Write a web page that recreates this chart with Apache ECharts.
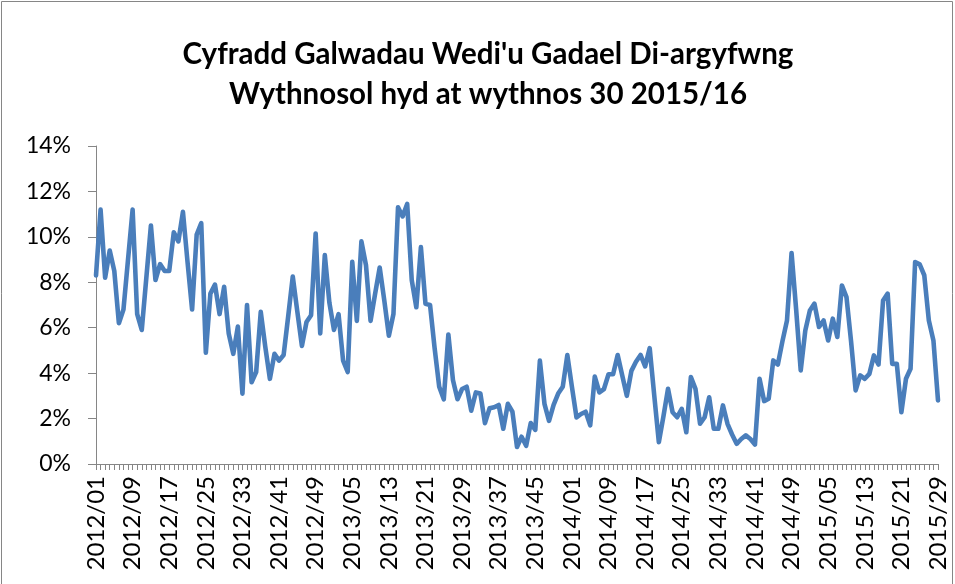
<!DOCTYPE html>
<html>
<head>
<meta charset="utf-8">
<script src="https://cdn.jsdelivr.net/npm/echarts@6/dist/echarts.min.js"></script>
<style>
html,body{margin:0;padding:0;background:#fff;}
#c{width:955px;height:584px;}
</style>
</head>
<body>
<div id="c"></div>
<script>
// Category structure: year and number of weeks shown for each year
var years = [2012, 2013, 2014, 2015];
var weeksPerYear = [52, 52, 52, 29];

// Weekly non-emergency abandoned call rate (%)
var v2012 = [8.3, 11.2, 8.2, 9.4, 8.5, 6.2, 6.8, 9.0, 11.2, 6.6, 5.9, 8.2, 10.5, 8.1, 8.8, 8.5, 8.5, 10.2, 9.8, 11.1,
  8.9, 6.8, 10.1, 10.6, 4.9, 7.5, 7.9, 6.6, 7.8, 5.75, 4.85, 6.05, 3.1, 7.0, 3.6, 4.05, 6.7, 5.15, 3.75, 4.85,
  4.55, 4.8, 6.5, 8.25, 6.7, 5.2, 6.25, 6.55, 10.15, 5.75, 9.2, 7.1];
var v2013 = [5.9, 6.6, 4.55, 4.05, 8.9, 6.3, 9.8, 8.75, 6.3, 7.5, 8.65, 7.2, 5.65, 6.6, 11.3, 10.9, 11.45, 8.1, 6.9, 9.55,
  7.05, 7.0, 5.1, 3.4, 2.85, 5.7, 3.7, 2.85, 3.3, 3.4, 2.35, 3.15, 3.1, 1.8, 2.45, 2.5, 2.6, 1.55, 2.65, 2.3,
  0.75, 1.2, 0.8, 1.8, 1.5, 4.55, 2.65, 1.9, 2.6, 3.1, 3.4, 4.8];
var v2014 = [3.4, 2.05, 2.2, 2.3, 1.7, 3.85, 3.15, 3.3, 3.95, 3.95, 4.8, 3.9, 3.0, 4.1, 4.5, 4.8, 4.3, 5.1, 3.0, 0.96,
  2.1, 3.31, 2.28, 2.06, 2.43, 1.4, 3.83, 3.31, 1.77, 2.06, 2.94, 1.55, 1.55, 2.58, 1.77, 1.3, 0.89, 1.1, 1.26, 1.1,
  0.86, 3.75, 2.77, 2.87, 4.56, 4.38, 5.4, 6.32, 9.29, 6.8, 4.12, 5.88];
var v2015 = [6.76, 7.06, 6.03, 6.32, 5.44, 6.4, 5.59, 7.86, 7.35, 5.4, 3.24, 3.9, 3.75, 3.97, 4.78, 4.38, 7.2, 7.5, 4.41, 4.41,
  2.28, 3.75, 4.19, 8.89, 8.79, 8.31, 6.32, 5.44, 2.8];

// Y axis ticks (%)
var yTicks = [0, 2, 4, 6, 8, 10, 12, 14];

var titleLines = ["Cyfradd Galwadau Wedi'u Gadael Di-argyfwng", "Wythnosol hyd at wythnos 30 2015/16"];

var categories = [];
for (var y = 0; y < years.length; y++) {
  for (var w = 1; w <= weeksPerYear[y]; w++) {
    categories.push(years[y] + '/' + (w < 10 ? '0' + w : '' + w));
  }
}
var values = v2012.concat(v2013, v2014, v2015);

var FONT = 'Lato, "Open Sans", sans-serif';
var AXIS = '#868686';

var chart = echarts.init(document.getElementById('c'), null, {renderer: 'canvas'});
chart.setOption({
  animation: false,
  backgroundColor: '#ffffff',
  title: {
    text: titleLines.join('\n'),
    left: 483,
    top: 29,
    textAlign: 'center',
    textStyle: {fontFamily: FONT, fontSize: 29.5, fontWeight: 'bold', color: '#000', lineHeight: 40}
  },
  graphic: [{
    type: 'rect',
    shape: {x: 1.5, y: 1.5, width: 951, height: 600},
    style: {fill: 'none', stroke: AXIS, lineWidth: 1},
    silent: true, z: -1
  }],
  grid: {left: 96, right: 17, top: 146, bottom: 120, containLabel: false},
  xAxis: {
    type: 'category',
    data: categories,
    boundaryGap: false,
    axisLine: {show: true, lineStyle: {color: AXIS, width: 1}},
    axisTick: {show: true, interval: 0, length: 6, lineStyle: {color: AXIS, width: 1}},
    axisLabel: {interval: 7, rotate: 90, margin: 12, color: '#000', fontFamily: FONT, fontSize: 24},
    splitLine: {show: false}
  },
  yAxis: {
    type: 'value',
    min: yTicks[0],
    max: yTicks[yTicks.length - 1],
    interval: yTicks[1] - yTicks[0],
    axisLine: {show: true, lineStyle: {color: AXIS, width: 1}},
    axisTick: {show: true, length: 8, lineStyle: {color: AXIS, width: 1}},
    axisLabel: {formatter: '{value}%', margin: 25, color: '#000', fontFamily: FONT, fontSize: 23},
    splitLine: {show: false}
  },
  series: [{
    type: 'line',
    data: values,
    symbol: 'none',
    smooth: false,
    lineStyle: {color: '#4A7EBB', width: 4.6, cap: 'round', join: 'round'}
  }]
});
</script>
</body>
</html>
